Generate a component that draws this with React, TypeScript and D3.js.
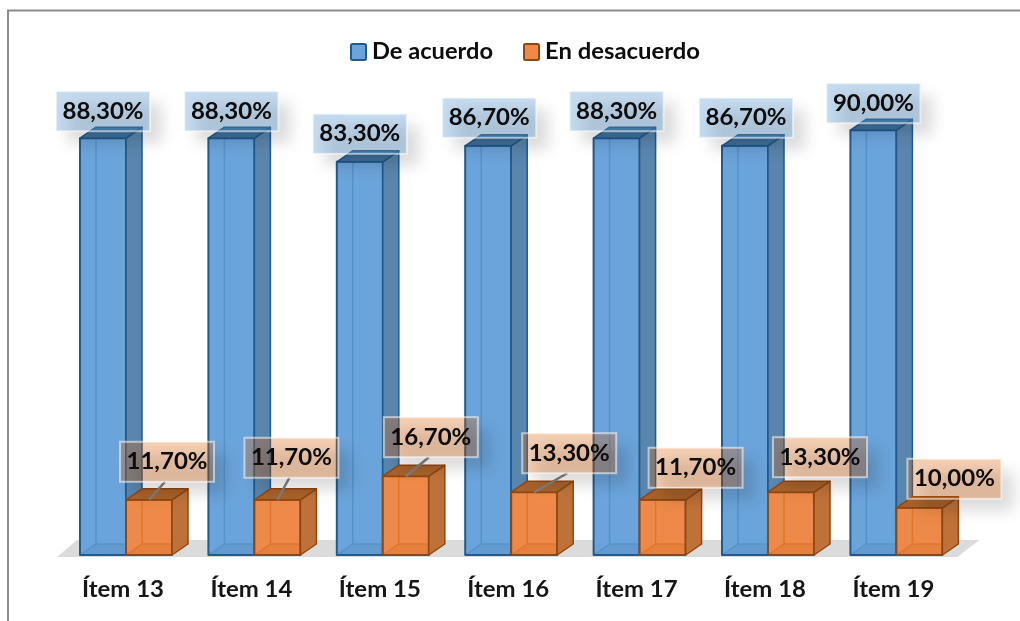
import React from "react";
import * as d3 from "d3";

const categories = ["Ítem 13", "Ítem 14", "Ítem 15", "Ítem 16", "Ítem 17", "Ítem 18", "Ítem 19"];
const deAcuerdo = [88.3, 88.3, 83.3, 86.7, 88.3, 86.7, 90.0];
const enDesacuerdo = [11.7, 11.7, 16.7, 13.3, 11.7, 13.3, 10.0];
const seriesNames = ["De acuerdo", "En desacuerdo"];

// Manual placement of the data-label boxes (offset of the box centre from the bar's top-front centre)
const blueLabelShift = [[0, -27], [0, -27], [0, -28], [1, -28], [0, -27], [1, -28], [0, -27]];
const orangeLabelShift = [[18, -38], [14, -42], [25, -39], [35, -39], [33, -32], [29, -35], [35, -29]];

const W = 1020, H = 621;
const baseY = 555;
const DX = 16, DY = -11;
const BW = 92, STEP = 128.4;
const fmt = (v: number) => v.toFixed(2).replace(".", ",") + "%";
const FONT = "Lato, 'Open Sans', sans-serif";

const x = d3.scaleBand<string>()
  .domain(categories)
  .range([80 - (STEP - BW) / 2, 80 - (STEP - BW) / 2 + STEP * categories.length])
  .paddingInner((STEP - BW) / STEP)
  .paddingOuter((STEP - BW) / STEP / 2);
const y = d3.scaleLinear().domain([0, 100]).range([baseY, baseY - 472]);

const pts = (p: number[][]) => p.map(q => q.join(",")).join(" ");

const palette = [
  { front: "#6ba4da", floor: "#639bd0", side: "#5a86ae", top: "#3f719f", stroke: "#225a8c", inner: "#5592cb", box: "#5b9bd5", boxOp: 0.36 },
  { front: "#ee8a48", floor: "#e5813e", side: "#bf7239", top: "#a9622c", stroke: "#8f4712", inner: "#df752d", box: "#de6208", boxOp: 0.3 },
];

function Bar({ x0, w, v, c }: { x0: number; w: number; v: number; c: typeof palette[0] }) {
  const yT = y(v), x1 = x0 + w;
  return (
    <g strokeLinejoin="round">
      <rect x={x0} y={yT} width={w} height={baseY - yT} fill={c.front} />
      <polygon points={pts([[x0 + DX, baseY + DY], [x1, baseY + DY], [x1, baseY], [x0, baseY]])} fill={c.floor} />
      <line x1={x0 + DX} x2={x0 + DX} y1={yT} y2={baseY + DY} stroke={c.inner} strokeWidth={1.5} />
      <line x1={x0 + DX} x2={x1} y1={baseY + DY} y2={baseY + DY} stroke={c.inner} strokeWidth={1.5} />
      <line x1={x0} x2={x0 + DX} y1={baseY} y2={baseY + DY} stroke={c.inner} strokeWidth={1.5} />
      <rect x={x0} y={yT} width={w} height={baseY - yT} fill="none" stroke={c.stroke} strokeWidth={2} />
      <polygon points={pts([[x1, yT], [x1 + DX, yT + DY], [x1 + DX, baseY + DY], [x1, baseY]])} fill={c.side} stroke={c.stroke} strokeWidth={1.5} />
      <polygon points={pts([[x0, yT], [x0 + DX, yT + DY], [x1 + DX, yT + DY], [x1, yT]])} fill={c.top} stroke={c.stroke} strokeWidth={1.5} />
    </g>
  );
}

function Label({ cx, cy, text, c, from }: { cx: number; cy: number; text: string; c: typeof palette[0]; from?: number[] }) {
  const bw = 94, bh = 40;
  return (
    <g>
      {from && <line x1={from[0]} y1={from[1]} x2={cx - 2} y2={cy + bh / 2} stroke="#7f7f7f" strokeWidth={2.5} />}
      <rect x={cx - bw / 2 + 12} y={cy - bh / 2 + 12} width={bw} height={bh} fill="#000" opacity={0.14} filter="url(#soft)" />
      <rect x={cx - bw / 2} y={cy - bh / 2} width={bw} height={bh} fill={c.box} fillOpacity={c.boxOp} stroke="#ffffff" strokeOpacity={0.55} strokeWidth={2} />
      <text x={cx} y={cy + 7.5} textAnchor="middle" fontFamily={FONT} fontWeight={700} fontSize={22} fill="#0a0a0a" textLength={81} lengthAdjust="spacingAndGlyphs">{text}</text>
    </g>
  );
}

export default function App() {
  const w = x.bandwidth() / 2;
  const lastX = (x(categories[categories.length - 1]) as number) + 2 * w;
  const firstX = x(categories[0]) as number;
  return (
    <svg width={W} height={H} viewBox={`0 0 ${W} ${H}`} style={{ position: "absolute", left: 0, top: 0, background: "#fff" }}>
      <defs>
        <filter id="soft" x="-30%" y="-70%" width="160%" height="240%"><feGaussianBlur stdDeviation="7.5" /></filter>
        <filter id="aa" x="0" y="0" width="100%" height="100%"><feGaussianBlur stdDeviation="0.5" /></filter>
      </defs>
      <rect x={0} y={0} width={W} height={H} fill="#fff" />
      <g filter="url(#aa)">
        <rect x={0} y={0} width={W} height={H} fill="#fff" />
        <path d={`M8,622 V10.5 H1022`} fill="none" stroke="#8c8c8c" strokeWidth={2} />
        <polygon points={pts([[firstX - 23, baseY + 2], [firstX - 3, baseY - 15], [lastX + 37, baseY - 15], [lastX + 15, baseY + 2]])} fill="#dcdbdb" />
        {categories.map((c, i) => (
          <g key={c}>
            <Bar x0={x(c) as number} w={w} v={deAcuerdo[i]} c={palette[0]} />
            <Bar x0={(x(c) as number) + w} w={w} v={enDesacuerdo[i]} c={palette[1]} />
          </g>
        ))}
        {categories.map((c, i) => {
          const cx = (x(c) as number) + w / 2;
          return <Label key={c} cx={cx + blueLabelShift[i][0]} cy={y(deAcuerdo[i]) + blueLabelShift[i][1]} text={fmt(deAcuerdo[i])} c={palette[0]} />;
        })}
        {categories.map((c, i) => {
          const cx = (x(c) as number) + w * 1.5;
          const hasLeader = -orangeLabelShift[i][1] - 20 > 15;
          return <Label key={c} cx={cx + orangeLabelShift[i][0]} cy={y(enDesacuerdo[i]) + orangeLabelShift[i][1]} text={fmt(enDesacuerdo[i])} c={palette[1]} from={hasLeader ? [cx, y(enDesacuerdo[i])] : undefined} />;
        })}
        {categories.map(c => (
          <text key={c} x={(x(c) as number) + w - 3} y={597} textAnchor="middle" fontFamily={FONT} fontWeight={700} fontSize={22} fill="#141414" textLength={82} lengthAdjust="spacingAndGlyphs">{c}</text>
        ))}
        {seriesNames.map((s, i) => {
          const lx = [350, 523][i], tw = [121, 155][i];
          return (
            <g key={s}>
              <rect x={lx + 1} y={44} width={15} height={16} rx={1.5} fill={palette[i].front} stroke={palette[i].stroke} strokeWidth={2} />
              <text x={lx + 22} y={59} fontFamily={FONT} fontWeight={700} fontSize={22} fill="#0a0a0a" textLength={tw} lengthAdjust="spacingAndGlyphs">{s}</text>
            </g>
          );
        })}
      </g>
    </svg>
  );
}
